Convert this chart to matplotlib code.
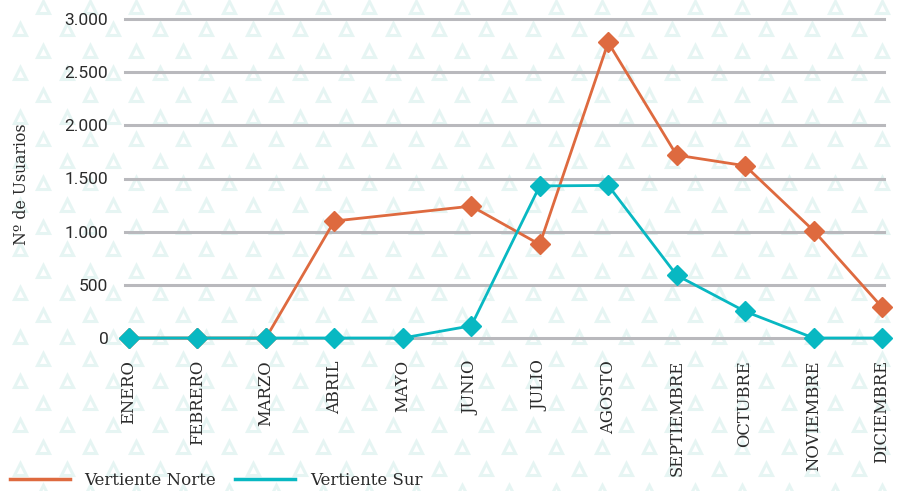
import numpy as np
import matplotlib.pyplot as plt
from matplotlib.ticker import FuncFormatter
from matplotlib.lines import Line2D

# usuarios por mes en cada vertiente (nan = sin dato)
meses = ['ENERO', 'FEBRERO', 'MARZO', 'ABRIL', 'MAYO', 'JUNIO', 'JULIO',
         'AGOSTO', 'SEPTIEMBRE', 'OCTUBRE', 'NOVIEMBRE', 'DICIEMBRE']
norte = [0, 0, 0, 1100, np.nan, 1240, 880, 2780, 1720, 1620, 1010, 290]
sur = [0, 0, 0, 0, 0, 115, 1430, 1435, 590, 250, 0, 0]

c_norte = '#de6a3f'
c_sur = '#08b8c2'
slab = 'DejaVu Serif'

fig = plt.figure(figsize=(8.97, 4.91), dpi=100)

# fondo con triangulitos
bg = fig.add_axes([0, 0, 1, 1], zorder=-10)
bg.set_xlim(0, 897)
bg.set_ylim(491, 0)
bg.axis('off')
for k in range(23):
    y0 = 7 + 22 * k
    x0 = 43 if k % 2 == 0 else 20
    xs = np.arange(x0, 910, 46.6)
    bg.plot(xs, np.full(len(xs), y0), linestyle='none', marker='^',
            markersize=8, markerfacecolor='none', markeredgecolor='#e6f5f3',
            markeredgewidth=2.2)

ax = fig.add_axes([125 / 897, 1 - 338 / 491, (884 - 125) / 897, (338 - 19) / 491])
ax.patch.set_alpha(0)
x = np.arange(len(meses))
n = np.array(norte, dtype=float)
ok = ~np.isnan(n)

ax.plot(x[ok], n[ok], color=c_norte, linewidth=2, marker='D', markersize=10,
        clip_on=False, zorder=3)
ax.plot(x, sur, color=c_sur, linewidth=2, marker='D', markersize=10,
        clip_on=False, zorder=4)

ax.set_xlim(-4 / 68.45, 11 + 2 / 68.45)
ax.set_ylim(0, 3000)
ax.set_yticks(np.arange(0, 3001, 500))
ax.yaxis.set_major_formatter(FuncFormatter(lambda v, p: f'{v:,.0f}'.replace(',', '.')))
ax.grid(axis='y', color='#b9b9bd', linewidth=2.2, zorder=0)
ax.set_axisbelow(True)
for gl in ax.get_ygridlines():
    gl.set_clip_on(False)
for s in ax.spines.values():
    s.set_visible(False)
ax.tick_params(length=0)
ax.tick_params(axis='y', labelsize=12.5, labelcolor='#2b2b2b', pad=12)
for t in ax.get_yticklabels():
    t.set_family('Roboto')

ax.set_xticks(x)
ax.set_xticklabels(meses, rotation=90, family=slab, fontsize=11.8, color='#2b2b2b')
ax.tick_params(axis='x', pad=16)

fig.text(22 / 897, 1 - 184 / 491, 'Nº de Usuarios', rotation=90, family=slab,
         fontsize=11.3, color='#2b2b2b', ha='center', va='center')

handles = [Line2D([], [], color=c_norte, linewidth=2.5),
           Line2D([], [], color=c_sur, linewidth=2.5)]
fig.legend(handles, ['Vertiente Norte', 'Vertiente Sur'], loc='lower left',
           bbox_to_anchor=(-0.006, -0.026), ncol=2, frameon=False, handlelength=3.6,
           handletextpad=0.9, columnspacing=1.1,
           prop={'family': slab, 'size': 12}, labelcolor='#2b2b2b')

fig.savefig('out.png', dpi=100)
